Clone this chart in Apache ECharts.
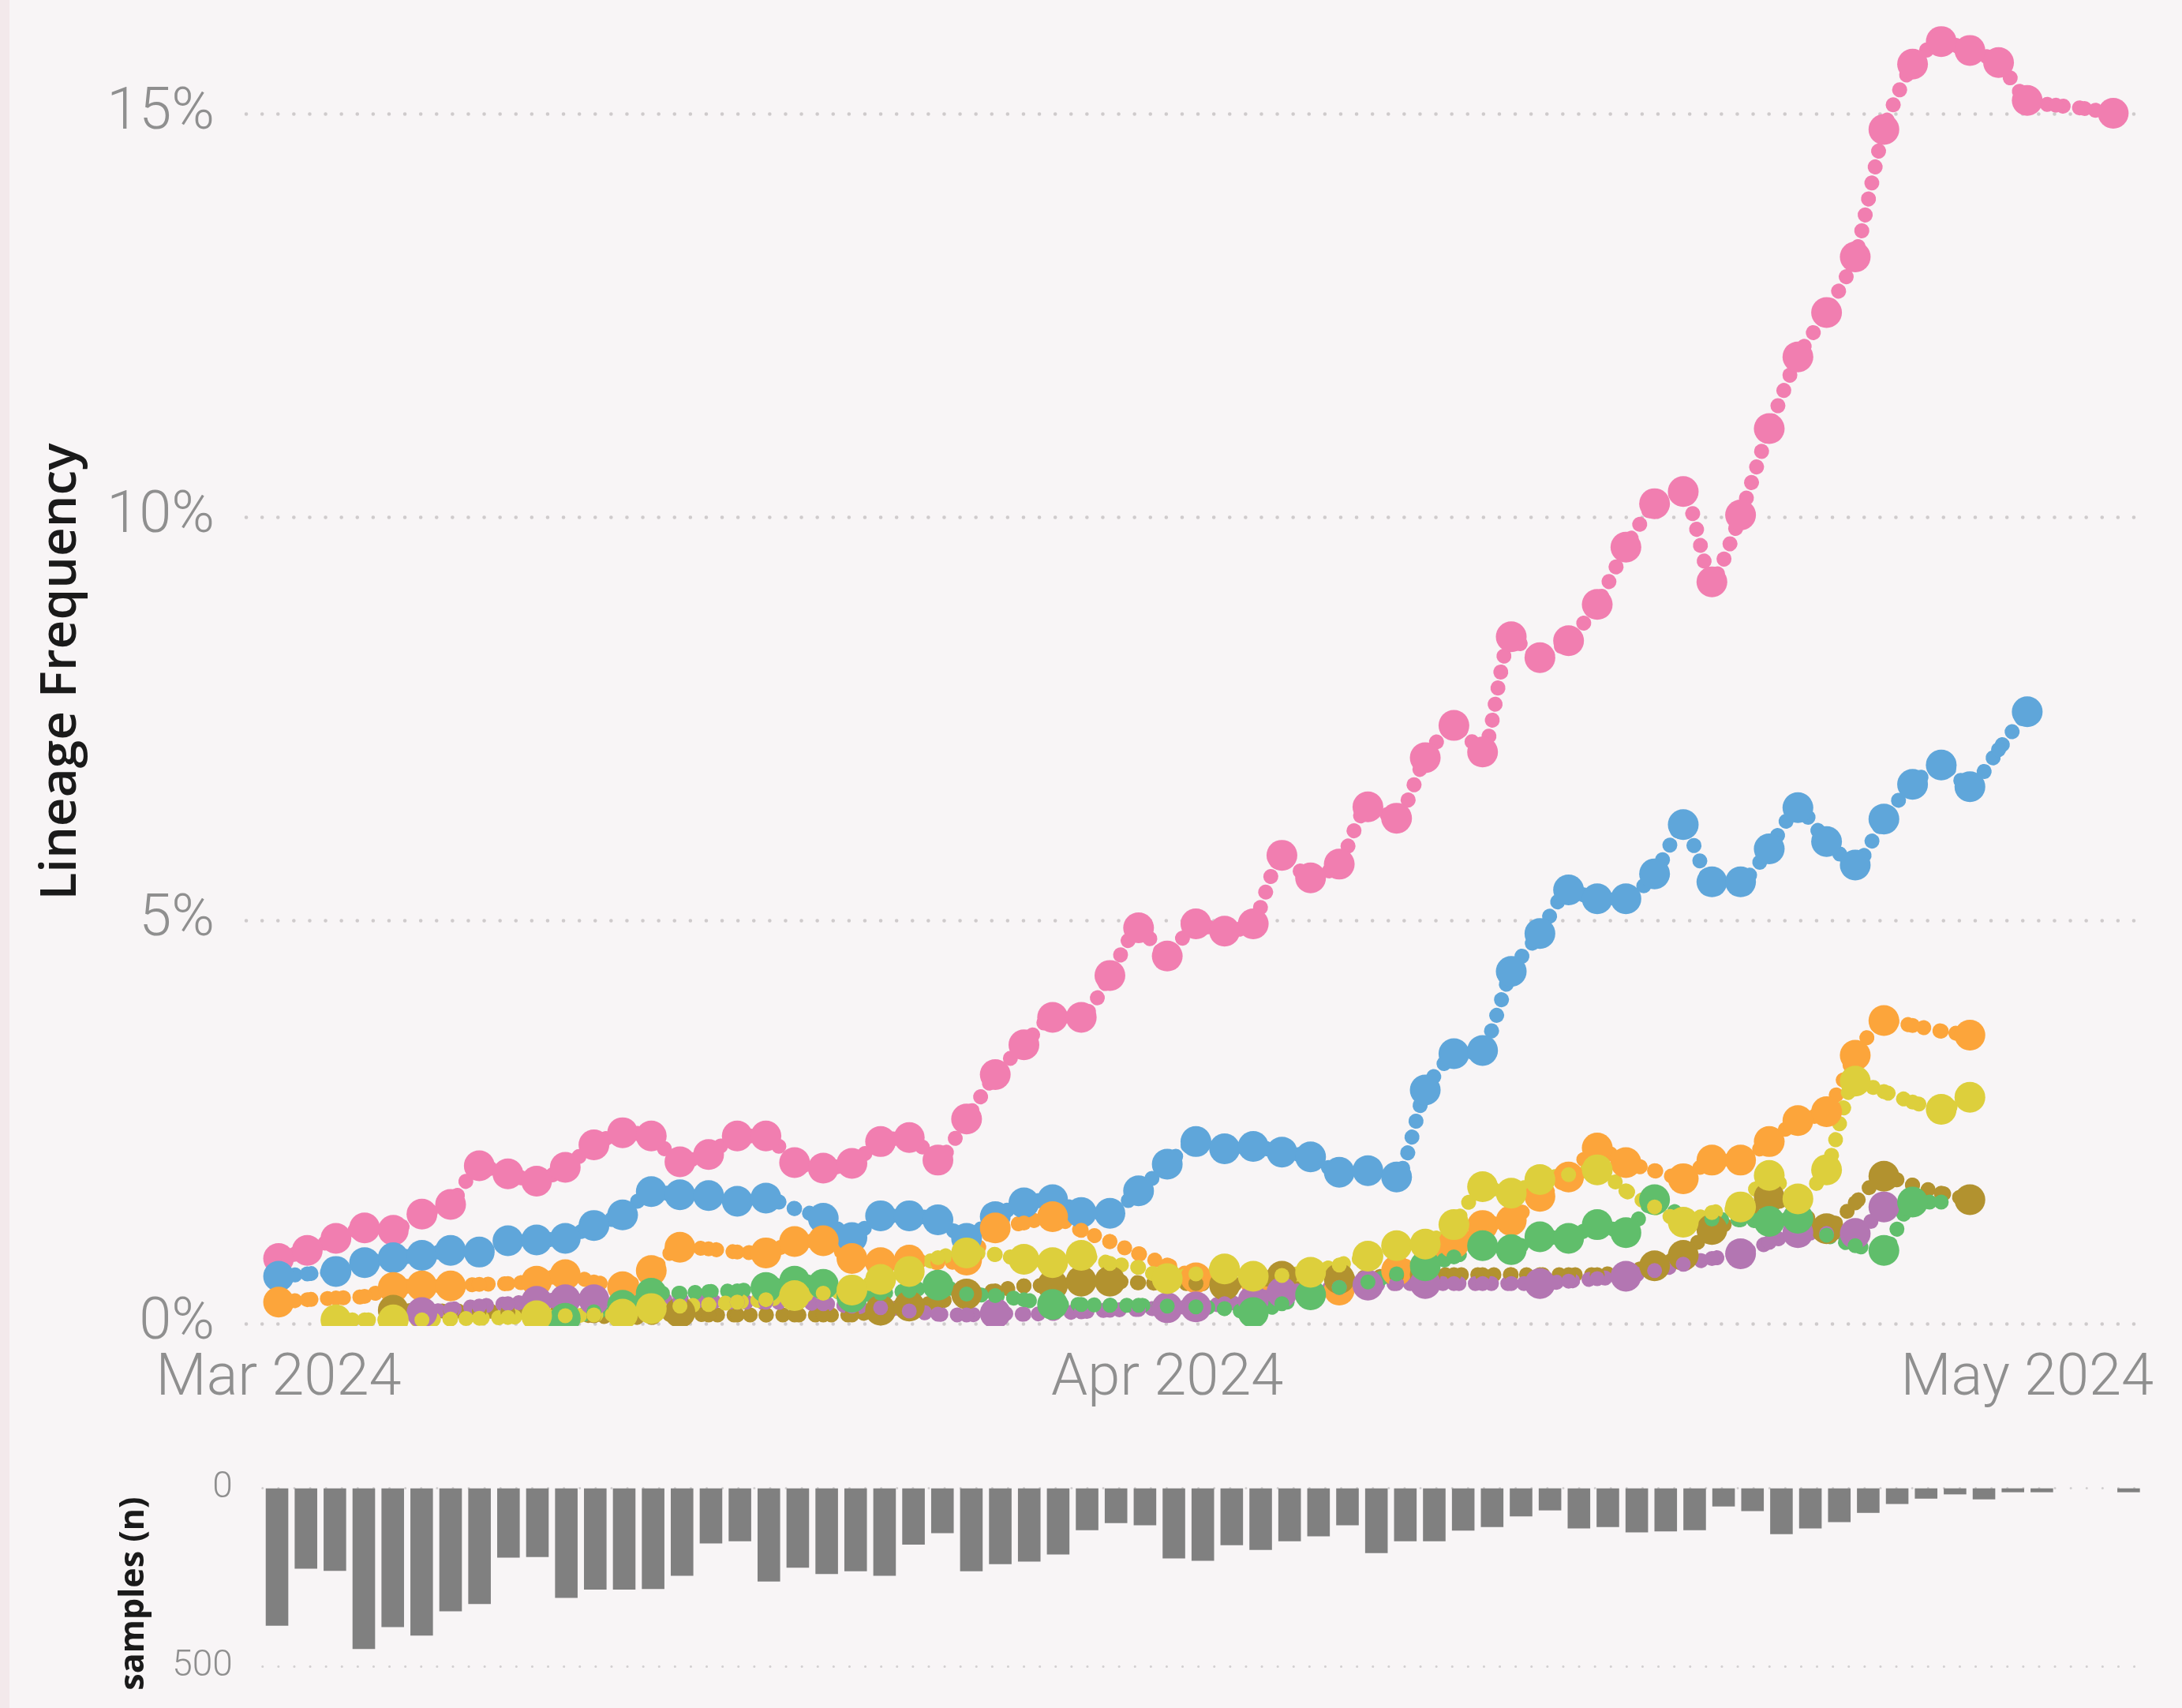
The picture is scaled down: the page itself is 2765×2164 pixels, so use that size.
<!DOCTYPE html>
<html>
<head>
<meta charset="utf-8">
<script src="https://cdn.jsdelivr.net/npm/echarts@6/dist/echarts.min.js"></script>
<style>
html, body { margin: 0; padding: 0; background: #f8f5f6; }
#main { width: 2765px; height: 2164px; }
</style>
</head>
<body>
<div id="main"></div>
<script>
// day index 0 = 2024-03-01
var xTickDays = [0, 31, 61];
var xTickLabels = ['Mar 2024', 'Apr 2024', 'May 2024'];

// lineage frequency (%) per day
var pink = [0.81,0.91,1.06,1.19,1.16,1.36,1.48,1.96,1.86,1.77, 1.94,2.22,2.37,2.33,2.01,2.10,2.33,2.33,2.00,1.93, 1.99,2.26,2.31,2.03,2.54,3.09,3.46,3.80,3.80,4.32, 4.91,4.56,4.96,4.87,4.96,5.81,5.53,5.70,6.41,6.27, 7.02,7.42,7.09,8.52,8.26,8.47,8.92,9.63,10.17,10.32, 9.20,10.03,11.10,11.99,12.54,13.23,14.81,15.62,15.90,15.79, 15.64,15.17,15.11,15.07,15.01];
var blue = [0.59,0.62,0.65,0.76,0.82,0.85,0.91,0.89,1.03,1.04, 1.06,1.22,1.35,1.64,1.60,1.59,1.52,1.56,1.43,1.31, 1.07,1.34,1.34,1.29,1.06,1.33,1.50,1.54,1.38,1.37, 1.65,1.98,2.26,2.17,2.20,2.13,2.07,1.88,1.90,1.82, 2.90,3.35,3.39,4.37,4.84,5.38,5.27,5.27,5.58,6.19, 5.48,5.48,5.89,6.40,5.98,5.69,6.26,6.69,6.93,6.66, 7.12,7.59,null,null,null];
var orange = [0.27,0.30,0.32,0.34,0.45,0.47,0.47,0.49,0.50,0.53, 0.61,0.52,0.46,0.66,0.95,0.93,0.89,0.88,1.02,1.03, 0.81,0.76,0.79,0.76,0.79,1.19,1.25,1.33,1.16,1.02, 0.87,0.73,0.57,0.52,0.48,0.45,0.42,0.42,0.52,0.66, 0.82,1.00,1.22,1.28,1.58,1.82,2.18,2.00,1.90,1.80, 2.03,2.03,2.26,2.52,2.63,3.33,3.76,3.70,3.63,3.58, null,null,null,null,null];
var yellow = [null,null,0.05,0.05,0.05,0.05,0.06,0.07,0.08,0.10, 0.10,0.11,0.12,0.19,0.22,0.24,0.27,0.30,0.35,0.38, 0.42,0.55,0.65,0.82,0.88,0.86,0.80,0.76,0.85,0.75, 0.70,0.56,0.62,0.68,0.59,0.60,0.64,0.73,0.84,0.97, 0.99,1.23,1.70,1.62,1.79,1.85,1.91,1.65,1.45,1.26, 1.38,1.45,1.84,1.55,1.91,3.01,2.88,2.75,2.66,2.81, null,null,null,null,null];
var olive = [null,null,null,null,0.17,0.16,0.16,0.16,0.15,0.14, 0.12,0.10,0.08,0.08,0.14,0.11,0.11,0.11,0.11,0.11, 0.11,0.17,0.22,0.27,0.37,0.41,0.47,0.48,0.53,0.53, 0.51,0.50,0.50,0.48,0.52,0.59,0.57,0.56,0.58,0.60, 0.61,0.61,0.61,0.61,0.61,0.61,0.61,0.65,0.72,0.85, 1.17,1.30,1.57,1.40,1.18,1.50,1.83,1.72,1.62,1.54, null,null,null,null,null];
var green = [null,null,null,null,null,null,null,null,null,0.03, 0.07,0.15,0.23,0.38,0.38,0.40,0.41,0.45,0.53,0.49, 0.33,0.38,0.41,0.48,0.37,0.35,0.30,0.24,0.24,0.23, 0.23,0.22,0.21,0.19,0.14,0.25,0.36,0.45,0.52,0.62, 0.72,0.83,0.97,0.92,1.08,1.06,1.23,1.13,1.54,1.33, 1.30,1.29,1.27,1.31,1.10,0.97,0.91,1.51,1.51,null, null,null,null,null,null];
var purple = [null,null,null,null,null,0.14,0.18,0.22,0.25,0.28, 0.30,0.30,0.28,0.29,0.30,0.28,0.27,0.27,0.26,0.25, 0.22,0.20,0.16,0.12,0.11,0.13,0.12,0.13,0.15,0.17, 0.18,0.20,0.21,0.25,0.29,0.39,0.42,0.45,0.48,0.50, 0.50,0.50,0.50,0.50,0.50,0.53,0.56,0.59,0.66,0.74, 0.81,0.87,1.01,1.13,1.12,1.12,1.45,null,null,null, null,null,null,null,null];

// 1 = day with its own (large) point, 0 = only the dotted trail
var pinkBig   = [1,1,1,1,1,1,1,1,1,1, 1,1,1,1,1,1,1,1,1,1, 1,1,1,1,1,1,1,1,1,1, 1,1,1,1,1,1,1,1,1,1, 1,1,1,1,1,1,1,1,1,1, 1,1,1,1,1,1,1,1,1,1, 1,1,0,0,1];
var blueBig   = [1,0,1,1,1,1,1,1,1,1, 1,1,1,1,1,1,1,1,0,1, 1,1,1,1,1,1,1,1,1,1, 1,1,1,1,1,1,1,1,1,1, 1,1,1,1,1,1,1,1,1,1, 1,1,1,1,1,1,1,1,1,1, 0,1,0,0,0];
var orangeBig = [1,0,0,0,1,1,1,0,0,1, 1,0,1,1,1,0,0,1,1,1, 1,1,1,0,1,1,0,1,0,0, 0,0,1,0,0,0,0,1,0,1, 0,1,1,1,1,1,1,1,0,1, 1,1,1,1,1,1,1,0,0,1, 0,0,0,0,0];
var yellowBig = [0,0,1,0,1,0,0,0,0,1, 0,0,1,1,0,0,0,0,1,0, 1,1,1,0,1,0,1,1,1,0, 0,1,0,1,1,0,1,0,1,1, 1,1,1,1,1,0,1,0,0,1, 0,1,1,1,1,1,0,0,1,1, 0,0,0,0,0];
var oliveBig  = [0,0,0,0,1,0,0,0,0,0, 0,0,0,0,1,0,0,0,0,0, 0,1,1,0,1,0,0,1,1,1, 0,0,0,1,0,1,0,1,0,0, 1,0,0,0,0,0,0,0,1,1, 1,0,1,0,1,0,1,0,0,1, 0,0,0,0,0];
var greenBig  = [0,0,0,0,0,0,0,0,0,0, 1,0,1,1,0,0,0,1,1,1, 1,0,0,1,0,0,0,1,0,0, 0,0,0,0,1,0,1,0,0,0, 1,0,1,1,1,1,1,1,1,0, 0,0,1,1,0,0,1,1,0,0, 0,0,0,0,0];
var purpleBig = [0,0,0,0,0,1,0,0,0,1, 1,1,0,0,0,0,0,0,0,0, 0,0,0,0,0,1,0,0,0,0, 0,1,1,0,1,1,0,0,1,0, 1,0,0,0,1,0,0,1,0,0, 0,1,0,1,0,1,1,0,0,0, 0,0,0,0,0];

// samples per day
var samples = [386,226,232,452,390,414,346,325,195,193, 308,285,285,283,246,155,149,262,223,241, 233,246,158,126,233,213,206,186,118,98, 104,197,204,160,173,149,135,104,182,149, 149,119,109,79,62,113,109,124,121,118, 51,64,129,113,95,69,44,29,17,31, 11,11,0,0,11];

var dayIdx = [];
for (var i = 0; i < samples.length; i++) dayIdx.push(i);

var tickFont = { fontFamily: 'Roboto', fontWeight: 300, color: '#8f8f8f' };

function lineage(name, vals, big, color) {
    var pts = [];
    vals.forEach(function (v, i) {
        if (v === null) return;
        pts.push({ value: [i, v], symbolSize: big[i] ? 39 : 19 });
    });
    return {
        name: name,
        type: 'line',
        xAxisIndex: 0,
        yAxisIndex: 0,
        data: pts,
        smooth: 0.2,
        clip: false,
        symbol: 'circle',
        showAllSymbol: true,
        itemStyle: { color: color },
        lineStyle: { color: color, width: 19, type: [0.1, 20.5], cap: 'round' },
        emphasis: { disabled: true }
    };
}

var myChart = echarts.init(document.getElementById('main'));

var option = {
    backgroundColor: '#f8f5f6',
    animation: false,
    graphic: [
        { type: 'rect', left: 0, top: 0, shape: { width: 12, height: 2164 }, style: { fill: '#f3e9eb' } },
        // the plot is cut just under the 0% line
        { type: 'rect', x: 300, y: 1680, z: 100, shape: { width: 2430, height: 24 }, style: { fill: '#f8f5f6' } },
        { type: 'text', x: 78, y: 851, rotation: Math.PI / 2,
          style: { text: 'Lineage Frequency', fontFamily: 'Open Sans', fontWeight: 600, fontSize: 64, fill: '#1a1a1a',
                   align: 'center', verticalAlign: 'middle' } },
        { type: 'text', x: 170, y: 2019, rotation: Math.PI / 2,
          style: { text: 'samples (n)', fontFamily: 'Open Sans', fontWeight: 'bold', fontSize: 43, fill: '#1a1a1a',
                   align: 'center', verticalAlign: 'middle' } }
    ],
    grid: [
        { left: 312, right: 53, top: 144.6, bottom: 486.7 },
        { left: 332.7, right: 49.3, top: 1885.7, height: 225.3 }
    ],
    xAxis: [
        {
            type: 'value', gridIndex: 0, min: -1.13, max: 64.94,
            axisLine: { show: false }, axisTick: { show: false }, splitLine: { show: false },
            axisLabel: Object.assign({
                fontSize: 74, margin: 34,
                customValues: xTickDays,
                formatter: function (v) { return xTickLabels[xTickDays.indexOf(v)]; }
            }, tickFont)
        },
        {
            type: 'category', gridIndex: 1, data: dayIdx,
            axisLine: { show: false }, axisTick: { show: false }, axisLabel: { show: false }
        }
    ],
    yAxis: [
        {
            type: 'value', gridIndex: 0, min: 0, max: 15, interval: 5,
            axisLine: { show: false }, axisTick: { show: false },
            axisLabel: Object.assign({ fontSize: 74, margin: 40, formatter: '{value}%' }, tickFont),
            splitLine: { lineStyle: { color: '#cfcbcc', width: 4.5, type: [0.1, 20], cap: 'round' } }
        },
        {
            type: 'value', gridIndex: 1, min: 0, max: 500, interval: 500, inverse: true,
            axisLine: { show: false }, axisTick: { show: false },
            axisLabel: Object.assign({ fontSize: 46, margin: 38 }, tickFont),
            splitLine: { lineStyle: { color: '#d2cfd0', width: 3, type: [0.1, 20], cap: 'round' } }
        }
    ],
    series: [
        lineage('pink', pink, pinkBig, '#f17eb0'),
        lineage('blue', blue, blueBig, '#5fa6da'),
        lineage('orange', orange, orangeBig, '#fca53b'),
        lineage('olive', olive, oliveBig, '#b2922f'),
        lineage('purple', purple, purpleBig, '#b376b2'),
        lineage('green', green, greenBig, '#60be6b'),
        lineage('yellow', yellow, yellowBig, '#ddcf3c'),
        {
            name: 'samples', type: 'bar', xAxisIndex: 1, yAxisIndex: 1,
            data: samples, barWidth: '78%',
            itemStyle: { color: '#808080' },
            emphasis: { disabled: true }
        }
    ]
};

myChart.setOption(option);
</script>
</body>
</html>
